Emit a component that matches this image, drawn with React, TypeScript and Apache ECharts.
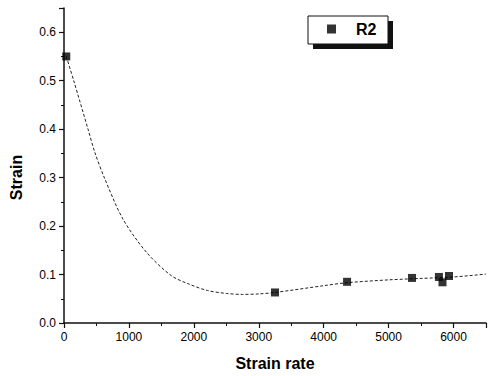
import React, { useEffect, useRef } from "react";
import * as echarts from "echarts";

const seriesName = "R2";
const strainRate = [35, 3250, 4360, 5360, 5775, 5830, 5930];
const strain = [0.55, 0.063, 0.085, 0.093, 0.095, 0.084, 0.097];

const fitRate = [35, 150, 370, 475, 630, 910, 1270, 1650, 1930, 2210, 2500, 2750, 3000, 3250, 4000, 4350, 5000, 5500, 6000, 6500];
const fitStrain = [0.55, 0.5, 0.4, 0.352, 0.297, 0.214, 0.146, 0.098, 0.08, 0.067, 0.061, 0.059, 0.06, 0.063, 0.077, 0.083, 0.089, 0.092, 0.095, 0.101];

const xTicks = [0, 1000, 2000, 3000, 4000, 5000, 6000];
const yTicks = [0.0, 0.1, 0.2, 0.3, 0.4, 0.5, 0.6];

export default function App() {
  const ref = useRef<HTMLDivElement>(null);
  useEffect(() => {
    const chart = echarts.init(ref.current!, null, { renderer: "svg" });
    const font = "'Liberation Sans', Arial, sans-serif";
    chart.setOption({
      animation: false,
      backgroundColor: "#fff",
      grid: { left: 64, right: 1, top: 8, bottom: 52 },
      legend: {
        data: [seriesName],
        left: 327,
        top: 21,
        padding: 0,
        itemWidth: 9,
        itemHeight: 9,
        icon: "rect",
        textStyle: { fontFamily: font, fontWeight: "bold", fontSize: 16, color: "#000", padding: [0, 0, 0, 15] },
      },
      graphic: [
        { type: "rect", shape: { x: 313, y: 21, width: 80, height: 28 }, style: { fill: "#111" }, z: -1 },
        { type: "rect", shape: { x: 308, y: 16, width: 80, height: 28 }, style: { fill: "#fff", stroke: "#111", lineWidth: 1 }, z: 0 },
      ],
      xAxis: {
        type: "value",
        min: 0,
        max: 6500,
        interval: 1000,
        name: "Strain rate",
        nameLocation: "middle",
        nameGap: 32,
        nameTextStyle: { fontFamily: font, fontWeight: "bold", fontSize: 16, color: "#000" },
        axisLine: { show: true, onZero: false, lineStyle: { color: "#111", width: 1.5 } },
        axisTick: { show: true, length: 5, lineStyle: { color: "#111", width: 1.2 } },
        minorTick: { show: true, splitNumber: 2, length: 3, lineStyle: { color: "#111", width: 1 } },
        splitLine: { show: false },
        axisLabel: {
          fontFamily: font,
          fontSize: 12,
          color: "#000",
          margin: 8,
          formatter: (v: number) => (xTicks.includes(v) ? String(v) : ""),
        },
      },
      yAxis: {
        type: "value",
        min: 0,
        max: 0.65,
        interval: 0.1,
        name: "Strain",
        nameLocation: "middle",
        nameGap: 40,
        nameTextStyle: { fontFamily: font, fontWeight: "bold", fontSize: 16, color: "#000", padding: [0, 24, 0, 0] },
        axisLine: { show: true, lineStyle: { color: "#111", width: 1.5 } },
        axisTick: { show: true, length: 5, lineStyle: { color: "#111", width: 1.2 } },
        minorTick: { show: true, splitNumber: 2, length: 3, lineStyle: { color: "#111", width: 1 } },
        splitLine: { show: false },
        axisLabel: {
          fontFamily: font,
          fontSize: 12,
          color: "#000",
          margin: 8,
          formatter: (v: number) => {
            const r = Math.round(v * 100) / 100;
            return yTicks.some((t) => Math.abs(t - r) < 1e-9) ? r.toFixed(1) : "";
          },
        },
      },
      series: [
        {
          name: "fit",
          type: "line",
          data: fitRate.map((x, i) => [x, fitStrain[i]]),
          smooth: 0.3,
          showSymbol: false,
          symbol: "none",
          lineStyle: { color: "#222", width: 1, type: [3, 2] },
          z: 1,
        },
        {
          name: seriesName,
          type: "scatter",
          data: strainRate.map((x, i) => [x, strain[i]]),
          symbol: "rect",
          symbolSize: 8,
          itemStyle: { color: "#000" },
          clip: false,
          z: 2,
        },
      ],
    });
    return () => chart.dispose();
  }, []);
  return <div ref={ref} style={{ position: "fixed", left: 0, top: 0, width: 489, height: 376 }} />;
}
